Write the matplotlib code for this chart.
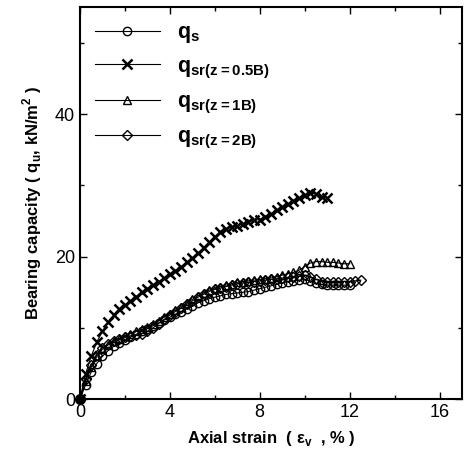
import matplotlib
matplotlib.use('Agg')
import matplotlib.pyplot as plt
from matplotlib.ticker import MultipleLocator

plt.rcParams['font.family'] = 'Liberation Sans'
plt.rcParams['mathtext.fontset'] = 'custom'
plt.rcParams['mathtext.bf'] = 'Liberation Sans:bold'
plt.rcParams['mathtext.rm'] = 'Liberation Sans'

# strain values (%) sampled every 0.25
strain_s = [0, 0.25, 0.5, 0.75, 1, 1.25, 1.5, 1.75, 2, 2.25, 2.5, 2.75, 3, 3.25, 3.5, 3.75,
            4, 4.25, 4.5, 4.75, 5, 5.25, 5.5, 5.75, 6, 6.25, 6.5, 6.75, 7, 7.25, 7.5, 7.75,
            8, 8.25, 8.5, 8.75, 9, 9.25, 9.5, 9.75, 10, 10.25, 10.5, 10.75, 11, 11.25, 11.5,
            11.75, 12]
q_s = [0, 2, 3.8, 5, 6, 6.8, 7.4, 7.9, 8.3, 8.7, 9.1, 9.5, 9.9, 10.3, 10.7, 11.1,
       11.5, 11.9, 12.3, 12.7, 13.1, 13.5, 13.8, 14.1, 14.3, 14.5, 14.7, 14.8, 14.9, 15, 15.1, 15.3,
       15.5, 15.7, 15.9, 16.1, 16.3, 16.5, 16.6, 16.7, 16.8, 16.6, 16.3, 16.1, 16, 16, 16,
       16, 16]

strain_05 = [0, 0.25, 0.5, 0.75, 1, 1.25, 1.5, 1.75, 2, 2.25, 2.5, 2.75, 3, 3.25, 3.5, 3.75,
             4, 4.25, 4.5, 4.75, 5, 5.25, 5.5, 5.75, 6, 6.25, 6.5, 6.75, 7, 7.25, 7.5, 7.75,
             8, 8.25, 8.5, 8.75, 9, 9.25, 9.5, 9.75, 10, 10.25, 10.5, 10.75, 11]
q_05 = [0, 3.5, 6, 8, 9.5, 10.8, 11.8, 12.6, 13.2, 13.8, 14.4, 15, 15.5, 16, 16.5, 17,
        17.5, 18, 18.6, 19.2, 19.8, 20.5, 21.2, 22, 22.8, 23.5, 23.9, 24.1, 24.3, 24.6, 24.9, 25.1,
        25.2, 25.6, 26, 26.5, 27, 27.4, 27.8, 28.2, 28.6, 28.9, 28.8, 28.4, 28.2]

strain_1 = strain_s
q_1 = [0, 2.5, 4.5, 6, 7, 7.6, 8.1, 8.5, 8.9, 9.2, 9.5, 9.8, 10.1, 10.5, 11, 11.5,
       12, 12.5, 13, 13.5, 14, 14.5, 14.9, 15.3, 15.6, 15.8, 16, 16.2, 16.4, 16.5, 16.6, 16.7,
       16.8, 16.9, 17, 17.2, 17.4, 17.6, 17.8, 18.1, 18.6, 19.1, 19.3, 19.3, 19.2, 19.2, 19.1,
       19, 19]

strain_2 = strain_s + [12.25, 12.5]
q_2 = [0, 2.8, 4.8, 6.2, 7.2, 7.8, 8.2, 8.5, 8.7, 8.9, 9, 9.2, 9.5, 10, 10.6, 11.2,
       11.8, 12.3, 12.8, 13.3, 13.8, 14.3, 14.7, 15.1, 15.4, 15.6, 15.8, 16, 16.2, 16.3, 16.4, 16.5,
       16.6, 16.7, 16.8, 16.9, 17, 17.1, 17.2, 17.3, 17.4, 17.2, 16.8, 16.5, 16.4, 16.4, 16.4,
       16.5, 16.5, 16.6, 16.7]

fig = plt.figure(figsize=(4.7, 4.73), dpi=100)
ax = fig.add_axes([0.170, 0.156, 0.813, 0.829])

ax.plot(strain_s, q_s, '-', color='k', lw=0.8, marker='o', ms=6, mfc='none', mew=1.0,
        label=r'$\mathbf{q_{s}}$')
ax.plot(strain_05, q_05, '-', color='k', lw=0.8, marker='x', ms=7, mew=1.8,
        label=r'$\mathbf{q_{sr(z{=}0.5B)}}$')
ax.plot(strain_1, q_1, '-', color='k', lw=0.8, marker='^', ms=6, mfc='none', mew=1.0,
        label=r'$\mathbf{q_{sr(z{=}1B)}}$')
ax.plot(strain_2, q_2, '-', color='k', lw=0.8, marker='D', ms=5, mfc='none', mew=1.0,
        label=r'$\mathbf{q_{sr(z{=}2B)}}$')
ax.plot([0], [0], 'o', color='k', ms=7, clip_on=False, zorder=5)

ax.set_xlim(0, 17)
ax.set_ylim(0, 55)
ax.xaxis.set_major_locator(MultipleLocator(4))
ax.xaxis.set_minor_locator(MultipleLocator(2))
ax.yaxis.set_major_locator(MultipleLocator(20))
ax.yaxis.set_minor_locator(MultipleLocator(10))
ax.tick_params(which='both', direction='in', top=True, right=True, labelsize=13, width=1)
ax.tick_params(which='major', length=5)
ax.tick_params(which='minor', length=3)
for s in ax.spines.values():
    s.set_linewidth(1.5)

ax.set_xlabel('Axial strain  ( \u03b5$_{\\mathbf{v}}$  , % )', fontsize=12, fontweight='bold', labelpad=6)
ax.set_ylabel('Bearing capacity ( q$_{\\mathbf{u}}$, kN/m$^{\\mathbf{2}}$ )', fontsize=12,
              fontweight='bold', labelpad=8)

ax.legend(loc='upper left', frameon=False, fontsize=15.5, handlelength=3.0, labelspacing=0.5,
          borderaxespad=0.3, handletextpad=0.8)

fig.savefig('out.png', dpi=100)
